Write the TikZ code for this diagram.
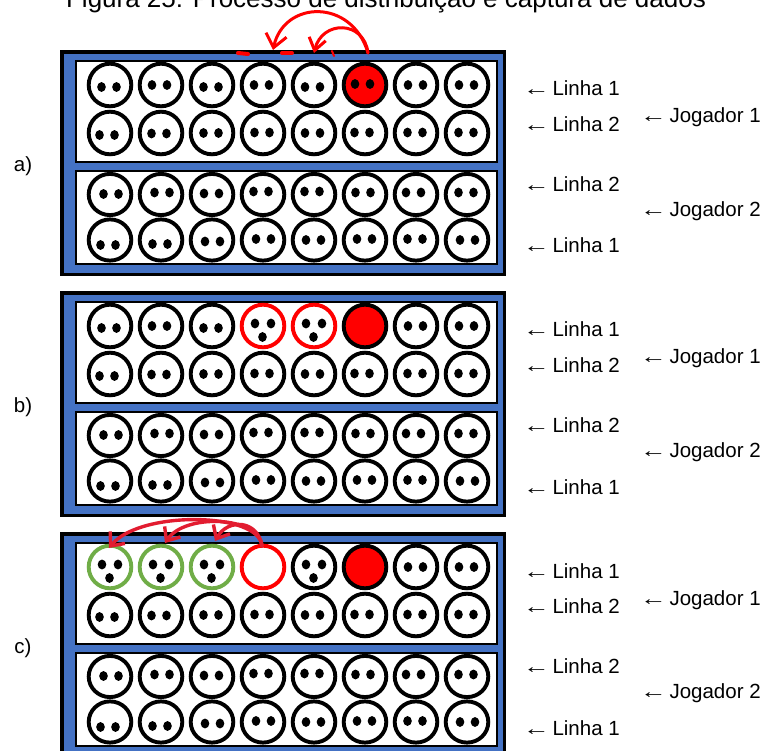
\documentclass[tikz,border=0pt]{standalone}
\usepackage{fontspec}
\setmainfont{Liberation Sans}
\usetikzlibrary{arrows.meta}

\definecolor{boardblue}{RGB}{68,114,196}
\definecolor{capgreen}{RGB}{112,173,71}
\definecolor{markred}{RGB}{255,0,0}
\definecolor{curvered}{RGB}{226,28,48}

% eye offsets of the ordinary pits, rows 2 to 4 (same on every board)
\def\rowtwo{1/-3/2, 2/-2/0.5, 3/-1/0, 4/-1/-0.5, 5/-1.5/0, 6/-3/-0.5, 7/-1/-0.5, 8/-1/-0.5}
\def\rowthree{1/1/-0.5, 2/1/-2, 3/-0.5/-1, 4/-2/-3, 5/-2/-3, 6/-2/-2, 7/-2.5/-2, 8/-1/-2}
\def\rowfour{1/-2/5, 2/-1/4, 3/0.5/1.5, 4/0.5/-1, 5/-0.5/0, 6/-0.5/-1, 7/-1/-1, 8/0.5/0}

% two seeds centred at (#1,#2)
\newcommand\twoseeds[2]{%
  \fill ({#1-7.5},{#2}) ellipse [x radius=4.3, y radius=4.9];
  \fill ({#1+7.5},{#2}) ellipse [x radius=4.3, y radius=4.9];}
% three seeds around (#1,#2)
\newcommand\threeseeds[2]{%
  \fill ({#1-8},{#2-2.5}) ellipse [x radius=4.3, y radius=4.9];
  \fill ({#1+8},{#2-2.5}) ellipse [x radius=4.3, y radius=4.9];
  \fill ({#1-0.5},{#2+11}) ellipse [x radius=4.3, y radius=4.9];}

% one pit: #1 x, #2 y, #3 kind, #4 #5 seed offset, #6 vertical radius
\newcommand\boardpit[6]{%
  \ifcase#3\relax
    \draw[pitline] ({#1},{#2}) ellipse [x radius=21.3, y radius=#6];
    \twoseeds{#1+(#4)}{#2+(#5)}%
  \or
    \draw[pitline, fill=markred] ({#1},{#2}) ellipse [x radius=21.3, y radius=#6];
    \twoseeds{#1+(#4)}{#2+(#5)}%
  \or
    \draw[pitline, draw=markred] ({#1},{#2}) ellipse [x radius=21.3, y radius=#6];
    \threeseeds{#1}{#2}%
  \or
    \draw[pitline, fill=markred] ({#1},{#2}) ellipse [x radius=21.3, y radius=#6];
  \or
    \draw[pitline, draw=capgreen] ({#1},{#2}) ellipse [x radius=21.3, y radius=#6];
    \threeseeds{#1}{#2}%
  \or
    \draw[pitline, draw=markred] ({#1},{#2}) ellipse [x radius=21.3, y radius=#6];
  \or
    \draw[pitline] ({#1},{#2}) ellipse [x radius=21.3, y radius=#6];
    \threeseeds{#1}{#2}%
  \fi}

% frame of a board whose top edge is at #1, with rows 2 to 4 filled
\newcommand\boardframe[1]{%
  \fill[black] (60,{#1}) rectangle (506,{#1+226});
  \fill[boardblue] (64,{#1+4}) rectangle (503,{#1+223});
  \draw[panel] (76,{#1+11}) rectangle (497,{#1+112});
  \draw[panel] (76,{#1+121}) rectangle (497,{#1+214});
  \foreach \c/\dx/\dy in \rowtwo {\boardpit{110+51*(\c-1)}{#1+83}{0}{\dx}{\dy}{21.3}}
  \foreach \c/\dx/\dy in \rowthree {\boardpit{110+51*(\c-1)}{#1+144.5}{0}{\dx}{\dy}{20.6}}
  \foreach \c/\dx/\dy in \rowfour {\boardpit{110+51*(\c-1)}{#1+190}{0}{\dx}{\dy}{20.6}}}

% first row of a board: list of column/dx/dy/kind
\newcommand\firstrow[2]{%
  \foreach \c/\dx/\dy/\k in {#2} {\boardpit{110+51*(\c-1)}{#1+35}{\k}{\dx}{\dy}{21.3}}}

% a thin, slightly stretched left arrow in front of each label
\newcommand\lblarrow{\scalebox{1.3}[1]{←}\kern-3pt}

% row labels to the right of a board whose top edge is at #1
\newcommand\sidelabels[2]{%
  \node[lbl] (#2l1) at (523,{#1+46}) {\lblarrow\ Linha 1};
  \node[lbl] (#2l2) at (523,{#1+81.7}) {\lblarrow\ Linha 2};
  \node[lbl] (#2j1) at (640,{#1+73}) {\lblarrow\ Jogador 1};
  \node[lbl] (#2l3) at (523,{#1+141.7}) {\lblarrow\ Linha 2};
  \node[lbl] (#2j2) at (640,{#1+166.7}) {\lblarrow\ Jogador 2};
  \node[lbl] (#2l4) at (523,{#1+203}) {\lblarrow\ Linha 1};}

\begin{document}
\begin{tikzpicture}[x=1pt, y=-1pt,
  pitline/.style={line width=3.9pt, draw=black, fill=white},
  panel/.style={line width=2pt, draw=black, fill=white},
  lbl/.style={font=\fontsize{20.5}{25}\selectfont, inner sep=0pt, anchor=base west},
  partlbl/.style={font=\fontsize{20.5}{25}\selectfont, inner sep=0pt},
  sowred/.style={draw=markred, line width=3pt, line cap=round},
  takered/.style={draw=curvered, line width=3.4pt, line cap=round}]

\useasboundingbox (0,0) rectangle (769,751);
\fill[white] (0,0) rectangle (769,751);
\clip (0,0) rectangle (769,751);

% caption, cut by the top edge
\node[font=\fontsize{26}{30}\selectfont, inner sep=0pt, anchor=base] (title) at (386,7.3)
  {Figura 25: Processo de distribuição e captura de dados};

% ---- a) ----
\boardframe{50}
\firstrow{50}{1/-1/2/0, 2/-1.5/0/0, 3/-1/2/0, 4/-1.5/0/0, 5/-1.5/2/0, 6/-2.5/-1/1, 7/-0.5/0/0, 8/-0.5/0/0}
\sidelabels{50}{a}
\node[partlbl] (parta) at (23,166) {a)};

% ---- b) ----
\boardframe{291}
\firstrow{291}{1/-1/2/0, 2/-1.5/0/0, 3/-1/2/0, 4/0/0/2, 5/0/0/2, 6/0/0/3, 7/-0.5/0/0, 8/-0.5/0/0}
\sidelabels{291}{b}
\node[partlbl] (partb) at (23,407) {b)};

% ---- c) ----
\boardframe{532}
\firstrow{532}{1/0/0/4, 2/0/0/4, 3/0/0/4, 4/0/0/5, 5/0/0/6, 6/0/0/3, 7/-0.5/0/0, 8/-0.5/0/0}
\sidelabels{532}{c}
\node[partlbl] (partc) at (23,648) {c)};

% sowing arrows of a)
\coordinate (sowfrom) at (368,53);
\coordinate (sowfour) at (273,50);
\coordinate (sowfive) at (314,53);
\draw[sowred, -{Straight Barb[length=13pt, width=21pt]}]
  (sowfrom) .. controls (352,-2) and (284,0) .. (sowfour);
\draw[sowred, -{Straight Barb[length=12pt, width=17pt]}]
  (sowfrom) .. controls (364,20) and (322,20) .. (sowfive);
\draw[sowred, line width=4pt] (238,53) -- (248,54);
\draw[sowred, line width=4pt] (282,53) -- (292,53);
\draw[sowred, line width=2pt] (332,51) -- (334,56);

% capture arrows of c)
\coordinate (takefrom) at (262,546);
\coordinate (takeone) at (109,548);
\coordinate (taketwo) at (165,543);
\coordinate (takethree) at (215,541);
\draw[takered, -{Straight Barb[length=11pt, width=19pt]}]
  (takefrom) .. controls (260,512) and (140,510) .. (takeone);
\draw[takered, -{Straight Barb[length=11pt, width=19pt]}]
  (takefrom) .. controls (259,516) and (185,513) .. (taketwo);
\draw[takered, -{Straight Barb[length=11pt, width=19pt]}]
  (takefrom) .. controls (258,520) and (228,518) .. (takethree);
\end{tikzpicture}
\end{document}
